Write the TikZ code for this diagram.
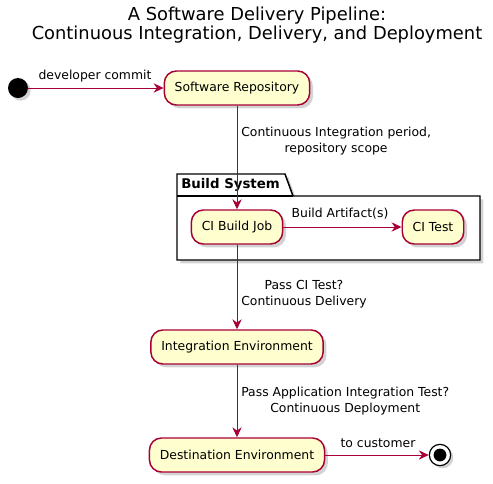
\documentclass[tikz,border=0pt]{standalone}
\usepackage{fontspec}
\setmainfont{DejaVu Sans}
\usepackage{xcolor}
\usepackage{tikz}
\usetikzlibrary{shapes,arrows,arrows.meta,positioning,fit,shadows}
\definecolor{umlred}{HTML}{A80036}
\definecolor{umlfill}{HTML}{FEFECE}

\begin{document}
\begin{tikzpicture}[x=0.75pt, y=-0.75pt, node distance=90pt, auto]
    % Define styles
    \tikzstyle{activity} = [rectangle, rounded corners=9pt, draw=umlred, line width=1.1pt, fill=umlfill, font=\fontsize{9.3}{12}\selectfont, inner xsep=7.8pt, minimum height=25.5pt, drop shadow={shadow xshift=2.5pt, shadow yshift=-2.5pt, opacity=0.35}]
    \tikzstyle{arrow} = [umlred, line width=0.75pt, -{Stealth[length=7.5pt, width=7pt, inset=2.5pt]}]
    \tikzstyle{lbl} = [font=\fontsize{9.3}{12}\selectfont, align=center, inner sep=0pt]
    \useasboundingbox (0,0) rectangle (493,483);

    % Title
    \node [font=\fontsize{13.4}{13.6}\selectfont, align=center] (title) at (257,25) {A Software Delivery Pipeline:\\Continuous Integration, Delivery, and Deployment};

    % Start and repository
    \node [circle, fill=black, minimum size=15pt, inner sep=0pt, drop shadow={shadow xshift=2pt, shadow yshift=-2pt, opacity=0.35}] (start) at (18,88) {};
    \node [activity, right of=start, node distance=164.25pt] (repo) {Software Repository};

    % Build System package
    \draw [line width=1.1pt, fill=white, drop shadow={shadow xshift=2.5pt, shadow yshift=-2.5pt, opacity=0.35}] (177,196) -- (177,174) -- (285,174) -- (293,196) -- (480,196) -- (480,260) -- (177,260) -- cycle;
    \draw [line width=1.1pt] (177,196) -- (293,196);
    \node [anchor=west, font=\fontsize{10}{12}\bfseries, inner sep=0pt] (pkglabel) at (181,185) {Build System};

    \node [activity, below of=repo, yshift=-14.25pt] (build) {CI Build Job};
    \node [activity, right of=build, node distance=147pt] (citest) {CI Test};

    % Environments
    \node [activity, below of=build] (integ) {Integration Environment};
    \node [activity, below of=integ, yshift=9pt] (dest) {Destination Environment};

    % Stop
    \node [circle, draw=black, line width=0.9pt, fill=white, minimum size=16pt, inner sep=0pt, drop shadow={shadow xshift=2pt, shadow yshift=-2pt, opacity=0.35}] (stop) at (440,455) {};
    \fill [black] (stop.center) circle [radius=4.8pt];

    % Arrows
    \draw [arrow] (start) -- (repo);
    \draw [arrow] (repo) -- (build);
    \draw [arrow] (build) -- (citest);
    \draw [arrow] (build) -- (integ);
    \draw [arrow] (integ) -- (dest);
    \draw [arrow] (dest) -- (stop);

    % Labels
    \node [lbl] (l1) at (95,76) {developer commit};
    \node [lbl, anchor=west] (l2) at (241,141) {Continuous Integration period,\\repository scope};
    \node [lbl] (l3) at (340,214) {Build Artifact(s)};
    \node [lbl, anchor=west] (l4) at (241,294) {Pass CI Test?\\Continuous Delivery};
    \node [lbl, anchor=west] (l5) at (241,401) {Pass Application Integration Test?\\Continuous Deployment};
    \node [lbl] (l6) at (378,443) {to customer};
\end{tikzpicture}
\end{document}
